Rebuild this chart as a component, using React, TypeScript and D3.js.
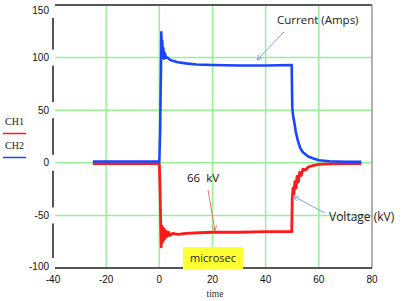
import React from "react";
import * as d3 from "d3";

// time axis (microseconds) and the two scope channels
const currentTime = [-25, -20, -15, -10, -5, 0, 0.3, 0.5, 0.6, 0.75, 0.9, 1.1, 1.3, 1.5, 1.8, 2.1, 2.5, 3, 4, 5, 7, 10, 14, 20, 30, 40, 49.8, 50, 50.3, 50.8, 51.3, 52, 53, 54, 56, 58, 60, 64, 70, 76];
const currentAmps = [1.2, 1.2, 1.2, 1.2, 1.2, 1.2, 30, 70, 85, 124, 104, 116, 100, 109, 99, 104, 100, 100, 98, 97, 95.5, 94.5, 93.5, 93, 92.5, 92.5, 93, 53, 45, 38, 30, 22, 14, 10, 6, 4, 2.5, 1.5, 1, 1];

const voltageTime = [-25, -20, -15, -10, -5, 0, 0.3, 0.5, 0.7, 0.9, 1.1, 1.3, 1.5, 1.8, 2.1, 2.5, 3, 3.5, 4, 5, 7, 10, 15, 20, 30, 40, 49.8, 50, 50.3, 50.6, 51, 51.4, 51.8, 52.3, 52.8, 53.4, 54, 55, 56, 58, 60, 64, 70, 76];
const voltageKV = [-0.7, -0.7, -0.7, -0.7, -0.7, -0.7, -30, -55, -80, -60, -76, -62, -74, -63, -72, -65, -70, -66, -69, -67, -68, -67, -66.5, -66, -66, -65.5, -65.5, -33, -24, -30, -18, -24, -13, -18, -9, -12, -6, -7, -4, -2.5, -1.5, -1, -0.7, -0.7];

const xTicks = [-40, -20, 0, 20, 40, 60, 80];
const yTicks = [150, 100, 50, 0, -50, -100];
const legendItems = ["CH1", "CH2"];
const legendColors = ["#ff1a1a", "#1a44ff"];

const grid = "#97f097";
const axisColor = "#555";

export default function App() {
  const x = d3.scaleLinear().domain([-40, 80]).range([53, 372]);
  const y = d3.scaleLinear().domain([-100, 150]).range([268, 5]);

  const curLine = d3.line<number>().x((_, i) => x(currentTime[i])).y((d) => y(d));
  const voltLine = d3.line<number>().x((_, i) => x(voltageTime[i])).y((d) => y(d));

  return (
    <svg width={402} height={301} style={{ position: "absolute", left: 0, top: 0, background: "#fff" }}>
      <defs>
        <marker id="arrBlue" viewBox="0 0 10 10" refX="9" refY="5" markerWidth="6" markerHeight="6" orient="auto">
          <path d="M0,1 L9,5 L0,9" fill="none" stroke="#7fa6d6" strokeWidth="1.5" />
        </marker>
        <marker id="arrRed" viewBox="0 0 10 10" refX="9" refY="5" markerWidth="6" markerHeight="6" orient="auto">
          <path d="M0,1 L9,5 L0,9" fill="none" stroke="#f07070" strokeWidth="1.5" />
        </marker>
      </defs>

      {/* grid */}
      {xTicks.slice(1, -1).map((t) => (
        <line key={"gx" + t} x1={x(t)} x2={x(t)} y1={y(150)} y2={y(-100)} stroke={grid} strokeWidth={1.5} />
      ))}
      {yTicks.slice(1, -1).map((t) => (
        <line key={"gy" + t} x1={x(-40)} x2={x(80)} y1={y(t)} y2={y(t)} stroke={grid} strokeWidth={1.5} />
      ))}

      {/* frame */}
      <line x1={x(-40)} x2={x(80)} y1={y(150)} y2={y(150)} stroke={axisColor} strokeWidth={1.8} />
      <line x1={x(80)} x2={x(80)} y1={y(150)} y2={y(-100)} stroke="#888" strokeWidth={1.3} />
      <line x1={x(-40)} x2={x(-40)} y1={y(150)} y2={y(-100)} stroke={axisColor} strokeWidth={2} />
      <line x1={x(-40)} x2={x(80)} y1={y(-100)} y2={y(-100)} stroke={axisColor} strokeWidth={2} />

      {/* y tick labels on white patches */}
      {yTicks.map((t) => {
        const cy = Math.min(Math.max(y(t), 10), 266);
        return (
          <g key={"yl" + t}>
            <rect x={27} y={cy - 8} width={28} height={16} fill="#fff" />
            <text x={49} y={cy + 3.5} textAnchor="end" fontFamily="Liberation Sans, Arial, sans-serif" fontSize={10} fill="#111">
              {t}
            </text>
          </g>
        );
      })}

      {/* x tick labels */}
      {xTicks.map((t) => (
        <text key={"xl" + t} x={x(t)} y={283} textAnchor="middle" fontFamily="Liberation Sans, Arial, sans-serif" fontSize={10} fill="#111">
          {t}
        </text>
      ))}
      <text x={215} y={297} textAnchor="middle" fontFamily="Liberation Serif, serif" fontSize={9.5} fill="#333">
        time
      </text>

      {/* traces */}
      <path d={voltLine(voltageKV) ?? ""} fill="none" stroke="#ff1a1a" strokeWidth={2.8} strokeLinejoin="round" />
      <path d={curLine(currentAmps) ?? ""} fill="none" stroke="#1a44ff" strokeWidth={2.6} strokeLinejoin="round" />

      {/* legend */}
      {legendItems.map((name, i) => (
        <g key={name}>
          <text x={5} y={125 + i * 24} fontFamily="Liberation Serif, serif" fontSize={10} fill="#222">
            {name}
          </text>
          <line x1={3} x2={26} y1={133.5 + i * 24} y2={133.5 + i * 24} stroke={legendColors[i]} strokeWidth={1.5} />
        </g>
      ))}

      {/* annotations */}
      <text x={277} y={24} fontFamily="Open Sans, sans-serif" fontSize={11.5} fill="#222">
        Current (Amps)
      </text>
      <line x1={284} y1={32} x2={257} y2={60} stroke="#7fa6d6" strokeWidth={1} markerEnd="url(#arrBlue)" />

      <text x={187} y={182} fontFamily="Open Sans, sans-serif" fontSize={11.5} fill="#111" xmlSpace="preserve">
        66  kV
      </text>
      <line x1={208} y1={190} x2={215} y2={231} stroke="#f07070" strokeWidth={1} markerEnd="url(#arrRed)" />

      <text x={329} y={221} fontFamily="Open Sans, sans-serif" fontSize={12} fill="#222">
        Voltage (kV)
      </text>
      <line x1={325} y1={213} x2={293} y2={196} stroke="#7fa6d6" strokeWidth={1} markerEnd="url(#arrBlue)" />

      <rect x={183} y={247} width={60} height={22} fill="#ffff33" />
      <text x={213} y={262} textAnchor="middle" fontFamily="Open Sans, sans-serif" fontSize={11} fill="#222">
        microsec
      </text>
    </svg>
  );
}
